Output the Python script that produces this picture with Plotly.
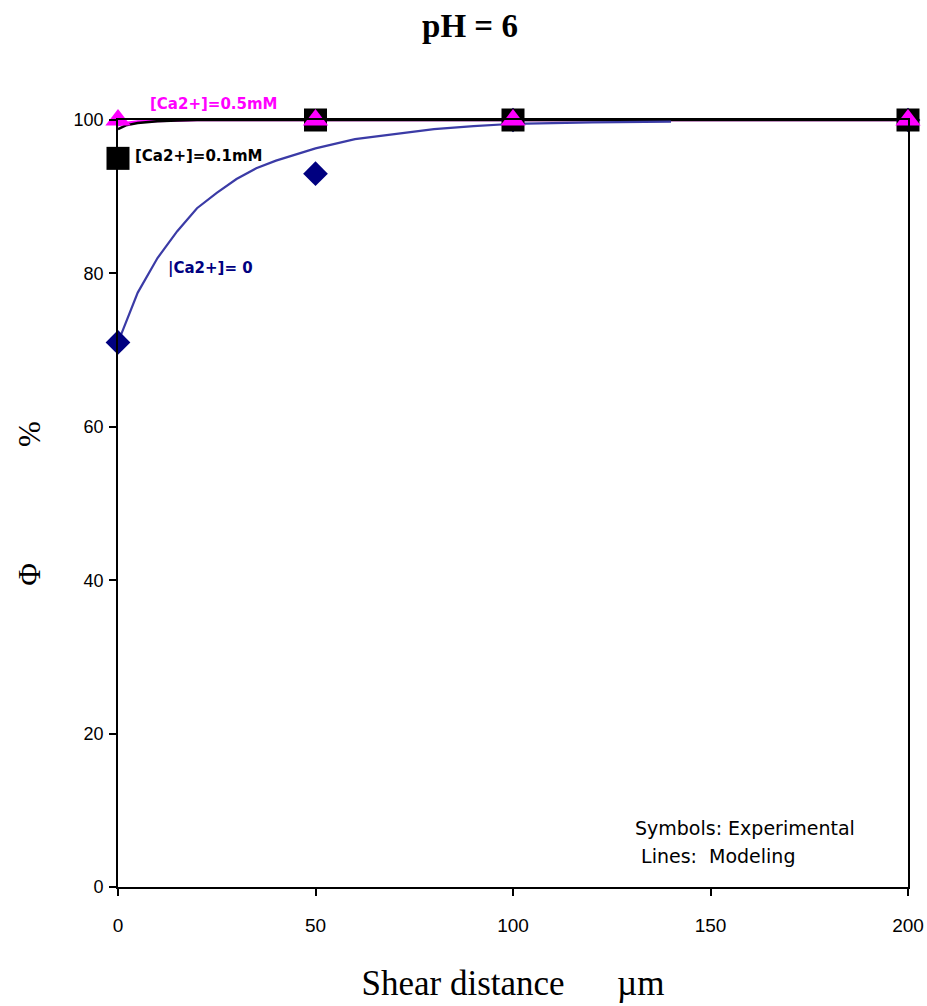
import plotly.graph_objects as go

# Experimental points (shear distance in µm, Φ in %)
x_exp = [0, 50, 100, 200]
phi_ca0 = [71, 93, 100, 100]
phi_ca01 = [95, 100, 100, 100]
phi_ca05 = [100, 100, 100, 100]

# Model curves
x_model_ca0 = [0, 5, 10, 15, 20, 25, 30, 35, 40, 50, 60, 70, 80, 90, 100, 120, 140]
phi_model_ca0 = [71, 77.5, 82, 85.5, 88.5, 90.5, 92.3, 93.7, 94.7, 96.3, 97.5,
                 98.2, 98.8, 99.2, 99.5, 99.7, 99.8]
x_model_ca01 = [0, 2, 5, 10, 15, 20, 200]
phi_model_ca01 = [98.8, 99.3, 99.6, 99.85, 99.95, 100, 100]
x_model_ca05 = [0, 2, 5, 10, 20, 200]
phi_model_ca05 = [99.3, 99.6, 99.8, 99.9, 100, 100]

x_ticks = [0, 50, 100, 150, 200]
y_ticks = [0, 20, 40, 60, 80, 100]

NAVY = "#000080"
BLUE_LINE = "#3b3ba6"
MAGENTA = "#ff00ff"
SERIF = "Liberation Serif, Times New Roman, serif"
WIDE = "DejaVu Sans, Verdana, sans-serif"
NARROW = "Liberation Sans Narrow, Arial Narrow, sans-serif"

fig = go.Figure()

# model lines
fig.add_trace(go.Scatter(x=x_model_ca05, y=phi_model_ca05, mode="lines",
                         line=dict(color=MAGENTA, width=2.5), cliponaxis=False,
                         hoverinfo="skip"))
fig.add_trace(go.Scatter(x=x_model_ca01, y=phi_model_ca01, mode="lines",
                         line=dict(color="black", width=2.5), cliponaxis=False,
                         hoverinfo="skip"))
fig.add_trace(go.Scatter(x=x_model_ca0, y=phi_model_ca0, mode="lines",
                         line=dict(color=BLUE_LINE, width=2.2), cliponaxis=False,
                         hoverinfo="skip"))

# experimental symbols
fig.add_trace(go.Scatter(x=x_exp, y=phi_ca0, mode="markers", cliponaxis=False,
                         marker=dict(symbol="diamond", size=19, color=NAVY,
                                     line=dict(width=0))))
fig.add_trace(go.Scatter(x=x_exp, y=phi_ca01, mode="markers", cliponaxis=False,
                         marker=dict(symbol="square", size=23, color="black",
                                     line=dict(width=0))))
fig.add_trace(go.Scatter(x=x_exp, y=phi_ca05, mode="markers", cliponaxis=False,
                         marker=dict(symbol="triangle-up", size=22, color=MAGENTA,
                                     line=dict(width=0))))

annotations = [
    dict(x=7.5, y=100, yshift=16, text="<b>[Ca2+]=0.5mM</b>",
         font=dict(color=MAGENTA, size=15, family=WIDE)),
    dict(x=3.8, y=95.3, text="<b>[Ca2+]=0.1mM</b>",
         font=dict(color="black", size=15, family=WIDE)),
    dict(x=12.2, y=80.6, text="<b>|Ca2+]= 0</b>",
         font=dict(color=NAVY, size=15, family=WIDE)),
    dict(x=130.5, y=7.7, text="Symbols: Experimental",
         font=dict(color="black", size=19, family=WIDE)),
    dict(x=130.5, y=4.05, text=" Lines:  Modeling",
         font=dict(color="black", size=19, family=WIDE)),
]
for a in annotations:
    a.update(xref="x", yref="y", xanchor="left", yanchor="middle", showarrow=False)

fig.update_layout(
    width=927, height=1006,
    margin=dict(l=118, r=19, t=120, b=119),
    paper_bgcolor="white", plot_bgcolor="white",
    showlegend=False,
    title=dict(text="<b>pH = 6</b>", x=0.507, xanchor="center", y=0.975, yanchor="middle",
               font=dict(family=SERIF, size=33, color="black")),
    annotations=annotations,
    xaxis=dict(range=[0, 200], tickvals=x_ticks, ticks="outside", ticklen=7,
               tickcolor="black", tickwidth=1.5, showgrid=False, zeroline=False,
               showline=True, linecolor="black", linewidth=1.8, mirror=True,
               automargin=False, ticklabelstandoff=13,
               tickfont=dict(family=NARROW, size=19, color="black"),
               title=dict(text="Shear distance      µm", standoff=36,
                          font=dict(family=SERIF, size=35, color="black"))),
    yaxis=dict(range=[0, 100], tickvals=y_ticks, ticks="outside", ticklen=7,
               tickcolor="black", tickwidth=1.5, showgrid=False, zeroline=False,
               showline=True, linecolor="black", linewidth=1.8, mirror=True,
               automargin=False, ticklabelstandoff=2,
               tickfont=dict(family=NARROW, size=18, color="black"),
               title=dict(text="Φ" + " " * 15 + "%", standoff=24,
                          font=dict(family=SERIF, size=31, color="black"))),
)

fig.write_html("out.html")
